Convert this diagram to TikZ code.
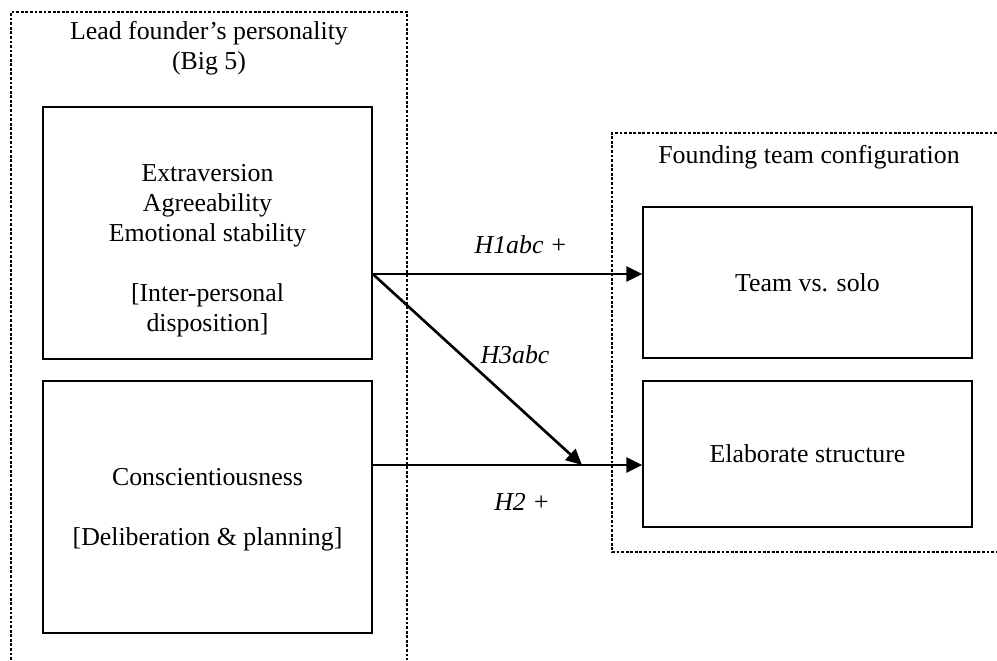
\documentclass[tikz,border=0pt]{standalone}
\usepackage{fontspec}
\setmainfont{Liberation Serif}
\usetikzlibrary{arrows.meta}
\newcommand\figfont{\fontsize{14.7pt}{17.1pt}\selectfont}
\tikzset{
  box/.style={draw, line width=0.9pt, inner sep=0pt, align=center, minimum width=6.58cm},
  group/.style={draw, dash pattern=on 1.6pt off 1pt, line width=0.7pt},
  hyp/.style={line width=1.5pt, -{Triangle[length=9pt,width=8.5pt]}},
  hyplabel/.style={font=\figfont\itshape}
}
\begin{document}
\begin{tikzpicture}[x=0.02cm, y=-0.02cm, font=\figfont]
    \useasboundingbox (0,0) rectangle (997,660);

    % dashed groups
    \draw[group] (11,660) -- (11,12) -- (407,12) -- (407,660);
    \draw[group] (997,133) -- (612,133) -- (612,552) -- (997,552);
    \node[align=center] (leadtitle) at (209,48.5) {Lead founder’s personality\\(Big 5)};
    \node (foundtitle) at (809,157) {Founding team configuration};

    % boxes
    \node[box, minimum height=5.04cm] (tl) at (207.5,233) {};
    \node[box, minimum height=5.04cm] (bl) at (207.5,507) {};
    \node[box, minimum height=3.02cm] (tr) at (807.5,282.5) {Team vs. solo};
    \node[box, minimum height=2.92cm] (br) at (807.5,454) {Elaborate structure};
    \node[align=center] (tltext) at (207.5,251)
        {Extraversion\\Agreeability\\Emotional stability\\[17.1pt]{[}Inter-personal\\disposition]};
    \node[align=center] (bltext) at (207.5,510)
        {Conscientiousness\\[17.1pt]{[}Deliberation \& planning]};

    % hypotheses
    \coordinate (h3end) at (582,465);
    \draw[hyp] (tl.east |- 0,274) -- (tr.west |- 0,274);
    \draw[hyp] (tl.east |- 0,274) -- (h3end);
    \draw[hyp] (bl.east |- 0,465) -- (br.west |- 0,465);
    \node[hyplabel] (h1lab) at (521,245) {H1abc +};
    \node[hyplabel] (h3lab) at (515,355) {H3abc};
    \node[hyplabel] (h2lab) at (522,502) {H2 +};
\end{tikzpicture}
\end{document}
